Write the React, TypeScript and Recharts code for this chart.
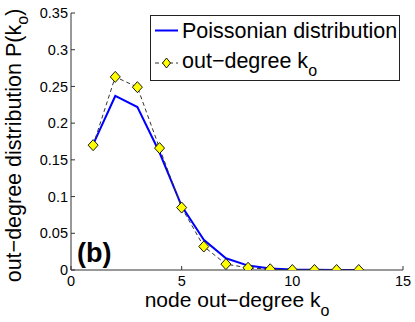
import React from 'react';
import { LineChart, Line, XAxis, YAxis, Legend } from 'recharts';

const degrees = [1, 2, 3, 4, 5, 6, 7, 8, 9, 10, 11, 12, 13];
const poissonValues = [0.171, 0.237, 0.222, 0.16, 0.087, 0.041, 0.016, 0.006, 0.002, 0.0006, 0.0002, 0, 0];
const outDegreeValues = [0.17, 0.263, 0.249, 0.166, 0.085, 0.032, 0.008, 0.003, 0.001, 0, 0, 0, 0];
const xTicks = [0, 5, 10, 15];
const yTicks = [0, 0.05, 0.1, 0.15, 0.2, 0.25, 0.3, 0.35];
const yTickLabels = ['0', '0.05', '0.1', '0.15', '0.2', '0.25', '0.3', '0.35'];
const seriesNames = ['Poissonian distribution', 'out\u2212degree k'];
const xLabel = 'node out\u2212degree k';
const yLabel = 'out\u2212degree distribution P(k';
const panelLabel = '(b)';

const data = degrees.map((k, i) => ({ k, poisson: poissonValues[i], outDegree: outDegreeValues[i] }));

const FONT = '"Liberation Sans", Arial, Helvetica, sans-serif';
const AX = '#333';
const BLUE = '#0000FF';
const YELLOW = '#FFFF00';

const Diamond = (props: any) => {
  const { cx, cy, index } = props;
  if (cx == null || cy == null) return <g key={index} />;
  const hw = 5;
  const hh = 5.5;
  return (
    <polygon
      key={index}
      points={`${cx},${cy - hh} ${cx + hw},${cy} ${cx},${cy + hh} ${cx - hw},${cy}`}
      fill={YELLOW}
      stroke="#000"
      strokeWidth={0.9}
    />
  );
};

const renderLegend = () => (
  <svg width={251} height={67} style={{ display: 'block' }}>
    <rect x={0.5} y={0.5} width={249} height={65} fill="#fff" stroke="#222" strokeWidth={1} />
    <line x1={5} x2={28} y1={15.5} y2={15.5} stroke={BLUE} strokeWidth={2} />
    <text x={32} y={23} fontFamily={FONT} fontSize={21.5} fill="#000">{seriesNames[0]}</text>
    <line x1={5} x2={28} y1={48} y2={48} stroke="#333" strokeWidth={1} strokeDasharray="4 3" />
    <polygon points="16.5,43 20.5,48 16.5,53 12.5,48" fill={YELLOW} stroke="#000" strokeWidth={0.9} />
    <text x={32} y={53} fontFamily={FONT} fontSize={21.5} fill="#000">
      {seriesNames[1]}
      <tspan dy={8} fontSize={16}>o</tspan>
    </text>
  </svg>
);

const XLabel = (props: any) => {
  const vb = props.viewBox;
  const cx = vb.x + vb.width / 2;
  return (
    <text x={cx} y={vb.y + 37} textAnchor="middle" fontFamily={FONT} fontSize={21} fill="#000">
      {xLabel}
      <tspan dy={9} fontSize={16}>o</tspan>
    </text>
  );
};

const YLabel = (props: any) => {
  const vb = props.viewBox;
  const x = 21;
  const y = vb.y + vb.height / 2 + 4;
  return (
    <text x={x} y={y} transform={`rotate(-90, ${x}, ${y})`} textAnchor="middle" fontFamily={FONT} fontSize={21.5} fill="#000">
      {yLabel}
      <tspan dy={7} fontSize={16}>o</tspan>
      <tspan dy={-7}>)</tspan>
    </text>
  );
};

const PanelLabel = () => (
  <text x={77} y={262} fontFamily={FONT} fontSize={27} fontWeight="bold" fill="#000">{panelLabel}</text>
);

export default function App() {
  return (
    <div style={{ position: 'fixed', left: 0, top: 0, width: 415, height: 322, background: '#fff' }}>
      <LineChart width={415} height={322} data={data} margin={{ top: 13, right: 12, left: 0, bottom: 0 }}>
        <XAxis
          dataKey="k"
          type="number"
          domain={[0, 15]}
          ticks={xTicks}
          interval={0}
          allowDataOverflow
          height={52}
          tickSize={-4}
          tickMargin={10}
          axisLine={{ stroke: AX }}
          tickLine={{ stroke: AX }}
          tick={{ fontSize: 14.5, fill: '#000', fontFamily: FONT }}
          label={<XLabel />}
        />
        <XAxis
          xAxisId="top"
          orientation="top"
          type="number"
          domain={[0, 15]}
          ticks={xTicks}
          interval={0}
          allowDataOverflow
          height={0}
          tickSize={-4}
          tick={false}
          axisLine={{ stroke: AX }}
          tickLine={{ stroke: AX }}
        />
        <YAxis
          type="number"
          domain={[0, 0.35]}
          ticks={yTicks}
          interval={0}
          allowDataOverflow
          width={71}
          tickSize={-4}
          tickMargin={7}
          axisLine={{ stroke: AX }}
          tickLine={{ stroke: AX }}
          tick={{ fontSize: 14.5, fill: '#000', fontFamily: FONT }}
          tickFormatter={(v: number) => yTickLabels[yTicks.indexOf(v)] ?? String(v)}
          label={<YLabel />}
        />
        <YAxis
          yAxisId="right"
          orientation="right"
          type="number"
          domain={[0, 0.35]}
          ticks={yTicks}
          interval={0}
          allowDataOverflow
          width={0}
          tickSize={-4}
          tick={false}
          axisLine={{ stroke: AX }}
          tickLine={{ stroke: AX }}
        />
        <Line
          dataKey="poisson"
          name={seriesNames[0]}
          stroke={BLUE}
          strokeWidth={2}
          dot={false}
          isAnimationActive={false}
        />
        <Line
          dataKey="outDegree"
          name={seriesNames[1]}
          stroke="#333"
          strokeWidth={1}
          strokeDasharray="4 3"
          dot={Diamond}
          activeDot={false}
          isAnimationActive={false}
        />
        <Legend
          content={renderLegend}
          layout="vertical"
          align="center"
          verticalAlign="middle"
          wrapperStyle={{ left: 150, top: 15, width: 251, height: 67 }}
        />
        <PanelLabel />
      </LineChart>
    </div>
  );
}
